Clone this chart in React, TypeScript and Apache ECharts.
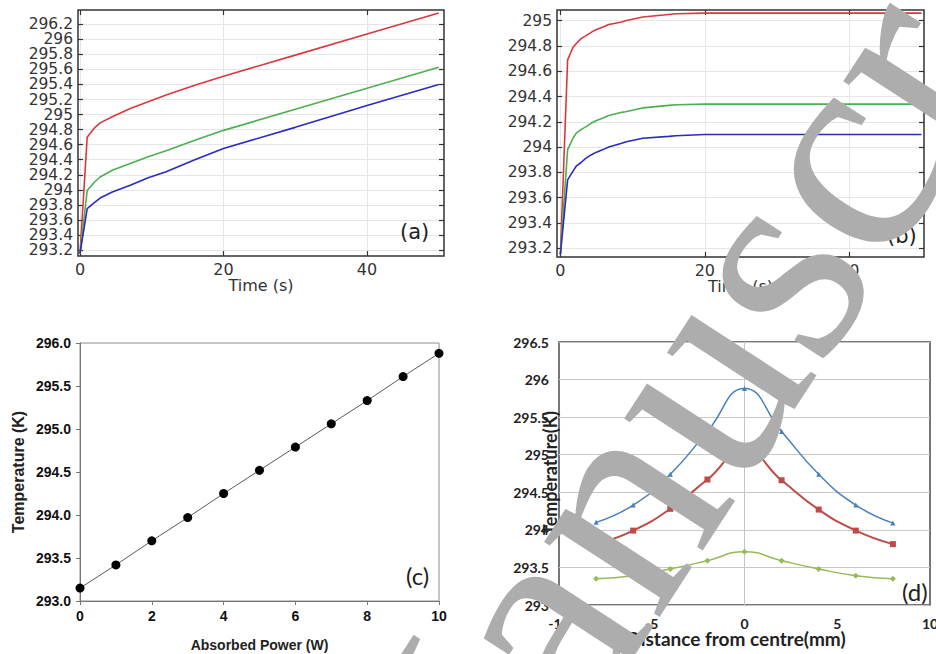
import React, { useEffect, useRef } from "react";
import * as echarts from "echarts";

// ---------- Panel (a) : transient, constant source ----------
const aTime = [0, 1, 2, 2.8, 4.5, 7, 9.5, 12, 16, 20, 30, 40, 50];
const aRed = [293.15, 294.7, 294.82, 294.89, 294.97, 295.08, 295.17, 295.26, 295.39, 295.51, 295.79, 296.07, 296.35];
const aGreen = [293.15, 293.99, 294.1, 294.17, 294.26, 294.35, 294.44, 294.52, 294.66, 294.79, 295.07, 295.35, 295.63];
const aBlue = [293.15, 293.75, 293.83, 293.89, 293.97, 294.06, 294.16, 294.24, 294.4, 294.55, 294.83, 295.12, 295.4];
const aYTicks = [293.2, 293.4, 293.6, 293.8, 294, 294.2, 294.4, 294.6, 294.8, 295, 295.2, 295.4, 295.6, 295.8, 296, 296.2];
const timeTicks = [0, 20, 40];

// ---------- Panel (b) : transient, steady state ----------
const bTime = [0, 1, 1.75, 2.2, 2.9, 3.5, 4.3, 5, 5.9, 6.7, 8.5, 9, 11.4, 15, 16, 20, 50];
const bRed = [293.15, 294.69, 294.79, 294.82, 294.86, 294.88, 294.91, 294.93, 294.95, 294.97, 294.99, 295.0, 295.03, 295.05, 295.055, 295.06, 295.06];
const bGreen = [293.15, 293.98, 294.07, 294.11, 294.14, 294.16, 294.19, 294.21, 294.23, 294.25, 294.275, 294.28, 294.31, 294.33, 294.335, 294.34, 294.34];
const bBlue = [293.15, 293.74, 293.81, 293.85, 293.88, 293.91, 293.94, 293.96, 293.98, 294.0, 294.03, 294.04, 294.07, 294.085, 294.09, 294.1, 294.1];
const bYTicks = [293.2, 293.4, 293.6, 293.8, 294, 294.2, 294.4, 294.6, 294.8, 295];

// ---------- Panel (c) : temperature vs absorbed power ----------
const cPower = [0, 1, 2, 3, 4, 5, 6, 7, 8, 9, 10];
const cTemp = [293.15, 293.42, 293.7, 293.97, 294.25, 294.52, 294.79, 295.06, 295.33, 295.61, 295.88];

// ---------- Panel (d) : temperature profile ----------
const dDist = [-8, -6, -4, -2, 0, 2, 4, 6, 8];
const dBlue = [294.1, 294.33, 294.74, 295.31, 295.88, 295.31, 294.74, 294.33, 294.09];
const dRed = [293.81, 293.99, 294.28, 294.67, 295.06, 294.66, 294.27, 293.99, 293.81];
const dGreen = [293.35, 293.39, 293.48, 293.59, 293.71, 293.59, 293.48, 293.39, 293.35];

const pair = (xs: number[], ys: number[]) => xs.map((x, i) => [x, ys[i]]);

const DJ = "DejaVu Sans";
const CAL = "Lato";
const ARIAL = "Liberation Sans";

function comsolAxes(gridIndex: number, xmin: number, xmax: number, ymin: number, ymax: number, yTicks: number[], yLabelTicks: number[]) {
  const tickStyle = { color: "#333", width: 1.2 };
  const lab = { fontFamily: DJ, fontSize: 15.5, color: "#333", margin: 5, hideOverlap: false, showMinLabel: true, showMaxLabel: true };
  const xs = [
    {
      type: "value", gridIndex, position: "bottom", min: xmin, max: xmax,
      axisLine: { show: false, onZero: false },
      axisTick: { show: true, inside: true, length: 5, customValues: timeTicks, lineStyle: tickStyle },
      axisLabel: { ...lab, fontSize: 16, customValues: timeTicks },
      splitLine: { show: true, lineStyle: { color: "#e6e6e6", width: 1 } },
      name: "Time (s)", nameLocation: "middle", nameGap: 20,
      nameTextStyle: { fontFamily: DJ, fontSize: 16, color: "#333" },
    },
    {
      type: "value", gridIndex, position: "top", min: xmin, max: xmax,
      axisLine: { show: false, onZero: false },
      axisTick: { show: true, inside: true, length: 5, customValues: timeTicks, lineStyle: tickStyle },
      axisLabel: { show: false },
      splitLine: { show: false },
    },
  ];
  const ys = [
    {
      type: "value", gridIndex, position: "left", min: ymin, max: ymax,
      axisLine: { show: false, onZero: false },
      axisTick: { show: true, inside: true, length: 5, customValues: yTicks, lineStyle: tickStyle },
      axisLabel: { ...lab, customValues: yLabelTicks },
      splitLine: { show: true, lineStyle: { color: "#e6e6e6", width: 1 } },
    },
    {
      type: "value", gridIndex, position: "right", min: ymin, max: ymax,
      axisLine: { show: false, onZero: false },
      axisTick: { show: true, inside: true, length: 5, customValues: yTicks, lineStyle: tickStyle },
      axisLabel: { show: false },
      splitLine: { show: false },
    },
  ];
  return { xs, ys, lab };
}

export default function App() {
  const ref = useRef<HTMLDivElement>(null);
  useEffect(() => {
    if (!ref.current) return;
    const chart = echarts.init(ref.current, undefined, { renderer: "svg" });

    // panel (a) labels are tightly packed: split them over two coincident axes
    const aLabelsEven = aYTicks.filter((_, i) => i % 2 === 0);
    const aLabelsOdd = aYTicks.filter((_, i) => i % 2 === 1);

    const A = comsolAxes(0, -0.28, 50.73, 293.12, 296.39, aYTicks, aLabelsEven);
    const B = comsolAxes(1, -0.47, 50.35, 293.13, 295.085, bYTicks, bYTicks);

    const comsolLine = (name: string, data: number[][], color: string, xi: number, yi: number) => ({
      type: "line", name, data, xAxisIndex: xi, yAxisIndex: yi, showSymbol: false, symbol: "none",
      smooth: false,
      lineStyle: { color, width: 1.6 }, itemStyle: { color }, z: 3,
    });

    const RED = "#d8383f";
    const GREEN = "#4caf50";
    const BLUE = "#2b2bbd";

    const option: any = {
      animation: false,
      backgroundColor: "#ffffff",
      grid: [
        { left: 78, top: 10, width: 366, height: 246, show: true, borderColor: "#333", borderWidth: 1.5, backgroundColor: "transparent", outerBoundsMode: "none", containLabel: false },
        { left: 557, top: 10, width: 367, height: 247, show: true, borderColor: "#333", borderWidth: 1.5, backgroundColor: "transparent", outerBoundsMode: "none", containLabel: false },
        { left: 80, top: 343, width: 359, height: 258, show: true, borderColor: "#8c8c8c", borderWidth: 1, backgroundColor: "transparent", outerBoundsMode: "none", containLabel: false },
        { left: 559, top: 342, width: 371, height: 263, show: true, borderColor: "#4a4a4a", borderWidth: 1.5, backgroundColor: "transparent", outerBoundsMode: "none", containLabel: false },
      ],
      xAxis: [
        ...A.xs,
        ...B.xs,
        {
          type: "value", gridIndex: 2, min: 0, max: 10, interval: 2,
          axisLine: { show: true, onZero: false, lineStyle: { color: "#777", width: 1 } },
          axisTick: { show: true, inside: false, length: 4, lineStyle: { color: "#777" } },
          axisLabel: { fontFamily: ARIAL, fontWeight: "bold", fontSize: 14, color: "#111", margin: 8 },
          splitLine: { show: false },
          name: "Absorbed Power (W)", nameLocation: "middle", nameGap: 37,
          nameTextStyle: { fontFamily: ARIAL, fontWeight: "bold", fontSize: 14, color: "#222" },
        },
        {
          type: "value", gridIndex: 3, min: -10, max: 10, interval: 5,
          axisLine: { show: false, onZero: false },
          axisTick: { show: false },
          axisLabel: { fontFamily: CAL, fontWeight: "bold", fontSize: 14, color: "#222", margin: 11 },
          splitLine: { show: false },
        },
      ],
      yAxis: [
        ...A.ys,
        ...B.ys,
        {
          type: "value", gridIndex: 2, min: 293, max: 296, interval: 0.5,
          axisLine: { show: true, onZero: false, lineStyle: { color: "#777", width: 1 } },
          axisTick: { show: true, inside: false, length: 4, lineStyle: { color: "#777" } },
          axisLabel: { fontFamily: ARIAL, fontWeight: "bold", fontSize: 14, color: "#111", margin: 9, formatter: (v: number) => v.toFixed(1) },
          splitLine: { show: false },
          name: "Temperature (K)", nameLocation: "middle", nameGap: 54,
          nameTextStyle: { fontFamily: ARIAL, fontWeight: "bold", fontSize: 16, color: "#222" },
        },
        {
          type: "value", gridIndex: 3, min: 293, max: 296.5, interval: 0.5,
          axisLine: { show: true, onZero: true, lineStyle: { color: "#c4c4c4", width: 1 } },
          axisTick: { show: false },
          axisLabel: { fontFamily: CAL, fontWeight: "bold", fontSize: 14, color: "#222", margin: 10 },
          splitLine: { show: true, lineStyle: { color: "#c8c8c8", width: 1 } },
        },
        {
          type: "value", gridIndex: 0, position: "left", offset: 0, min: 293.12, max: 296.39,
          axisLine: { show: false, onZero: false },
          axisTick: { show: false, customValues: aLabelsOdd },
          axisLabel: { ...A.lab, customValues: aLabelsOdd },
          splitLine: { show: false },
        },
      ],
      series: [
        comsolLine("a-red", pair(aTime, aRed), RED, 0, 0),
        comsolLine("a-green", pair(aTime, aGreen), GREEN, 0, 0),
        comsolLine("a-blue", pair(aTime, aBlue), BLUE, 0, 0),
        comsolLine("b-red", pair(bTime, bRed), RED, 2, 2),
        comsolLine("b-green", pair(bTime, bGreen), GREEN, 2, 2),
        comsolLine("b-blue", pair(bTime, bBlue), BLUE, 2, 2),
        {
          type: "line", name: "c", data: pair(cPower, cTemp), xAxisIndex: 4, yAxisIndex: 4,
          symbol: "circle", symbolSize: 9, showSymbol: true,
          lineStyle: { color: "#5a5a5a", width: 1 }, itemStyle: { color: "#000" },
        },
        {
          type: "line", name: "d-blue", data: pair(dDist, dBlue), xAxisIndex: 5, yAxisIndex: 5,
          smooth: true, symbol: "triangle", symbolSize: 5,
          lineStyle: { color: "#4a7ebb", width: 1.5 }, itemStyle: { color: "#4a7ebb" },
        },
        {
          type: "line", name: "d-red", data: pair(dDist, dRed), xAxisIndex: 5, yAxisIndex: 5,
          smooth: true, symbol: "rect", symbolSize: 6,
          lineStyle: { color: "#be4b48", width: 2 }, itemStyle: { color: "#be4b48" },
        },
        {
          type: "line", name: "d-green", data: pair(dDist, dGreen), xAxisIndex: 5, yAxisIndex: 5,
          smooth: true, symbol: "diamond", symbolSize: 6,
          lineStyle: { color: "#98b954", width: 1.5 }, itemStyle: { color: "#98b954" },
        },
      ],
      graphic: [
        { type: "text", left: 400, top: 221, style: { text: "(a)", fontFamily: DJ, fontSize: 21, fill: "#222" }, z: 10 },
        { type: "text", left: 887, top: 225, style: { text: "(b)", fontFamily: DJ, fontSize: 21, fill: "#222" }, z: 10 },
        { type: "text", left: 406, top: 563, style: { text: "(c)", fontFamily: CAL, fontSize: 24, fill: "#222" }, z: 10 },
        { type: "text", left: 902, top: 579, style: { text: "(d)", fontFamily: CAL, fontSize: 24, fill: "#222" }, z: 10 },
        {
          type: "text", x: 550, y: 473, rotation: Math.PI / 2,
          style: { text: "Temperature(K)", fontFamily: CAL, fontWeight: "bold", fontSize: 18, fill: "#222", align: "center", verticalAlign: "middle" }, z: 10,
        },
        {
          type: "text", x: 736, y: 638,
          style: { text: "Distance from centre(mm)", fontFamily: CAL, fontWeight: "bold", fontSize: 19, fill: "#222", align: "center", verticalAlign: "middle" }, z: 10,
        },
        {
          type: "text", x: 479, y: 985, rotation: (57 * Math.PI) / 180,
          style: { text: "Manuscript", fontFamily: "Liberation Serif", fontSize: 300, fill: "#adadad", align: "left", verticalAlign: "bottom" },
          z: 100,
        },
      ],
    };
    chart.setOption(option);
    return () => chart.dispose();
  }, []);

  return (
    <div
      ref={ref}
      style={{ position: "absolute", left: 0, top: 0, width: 936, height: 654, background: "#fff" }}
    />
  );
}
